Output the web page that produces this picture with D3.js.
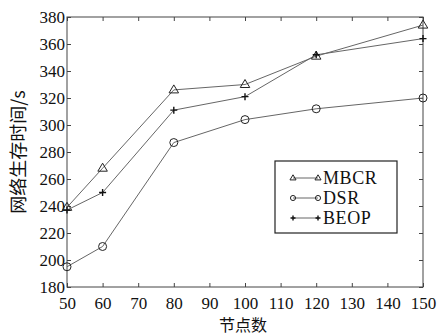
<!DOCTYPE html>
<html>
<head>
<meta charset="utf-8">
<script src="https://cdn.jsdelivr.net/npm/d3@7"></script>
<style>
  body { margin: 0; background: #fff; }
</style>
</head>
<body>
<div id="chart"></div>
<script>
// chart data
const nodes = [50, 60, 80, 100, 120, 150];
const mbcr = [239, 268, 326, 330, 351, 374];
const dsr = [195, 210, 287, 304, 312, 320];
const beop = [237, 250, 311, 321, 352, 364];
const xTicks = [50, 60, 70, 80, 90, 100, 110, 120, 130, 140, 150];
const yTicks = [180, 200, 220, 240, 260, 280, 300, 320, 340, 360, 380];

const width = 441, height = 336;
const mLeft = 67, mRight = 423, mTop = 17, mBottom = 287;
const serifFont = "Liberation Serif";
const cjkFont = "Noto Sans CJK SC";

const svg = d3.select("#chart").append("svg")
  .attr("width", width).attr("height", height);

const x = d3.scaleLinear().domain([50, 150]).range([mLeft, mRight]);
const y = d3.scaleLinear().domain([180, 380]).range([mBottom, mTop]);

const axisColor = "#444";

// axes with inward ticks on all four sides
const styleAxis = (g) => {
  g.attr("font-family", serifFont).attr("font-size", 17);
  g.select(".domain").remove();
  g.selectAll("line").attr("stroke", axisColor);
  g.selectAll("text").attr("fill", "#111");
};

svg.append("g")
  .attr("transform", `translate(0,${mBottom})`)
  .call(d3.axisBottom(x).tickValues(xTicks).tickSize(-4).tickPadding(10).tickFormat(d3.format("d")))
  .call(styleAxis);
svg.append("g")
  .attr("transform", `translate(0,${mTop})`)
  .call(d3.axisTop(x).tickValues(xTicks).tickSize(-4).tickFormat(""))
  .call(styleAxis);
svg.append("g")
  .attr("transform", `translate(${mLeft},0)`)
  .call(d3.axisLeft(y).tickValues(yTicks).tickSize(-4).tickPadding(2).tickFormat(d3.format("d")))
  .call(styleAxis);
svg.append("g")
  .attr("transform", `translate(${mRight},0)`)
  .call(d3.axisRight(y).tickValues(yTicks).tickSize(-4).tickFormat(""))
  .call(styleAxis);

// frame
svg.append("rect")
  .attr("x", mLeft).attr("y", mTop)
  .attr("width", mRight - mLeft).attr("height", mBottom - mTop)
  .attr("fill", "none").attr("stroke", axisColor).attr("stroke-width", 1);

const line = d3.line().x((d, i) => x(nodes[i])).y((d) => y(d));
const lineColor = "#666";

function marker(g, type, cx, cy, s) {
  if (type === "tri") {
    g.append("path")
      .attr("d", `M${cx},${cy - s}L${cx + s * 0.95},${cy + s * 0.6}L${cx - s * 0.95},${cy + s * 0.6}Z`)
      .attr("fill", "none").attr("stroke", "#222").attr("stroke-width", 1);
  } else if (type === "circ") {
    g.append("circle").attr("cx", cx).attr("cy", cy).attr("r", s * 0.8)
      .attr("fill", "none").attr("stroke", "#222").attr("stroke-width", 1);
  } else {
    g.append("path")
      .attr("d", `M${cx - s},${cy}L${cx + s},${cy}M${cx},${cy - s}L${cx},${cy + s}`)
      .attr("stroke", "#111").attr("stroke-width", 1.4);
  }
}

const series = [
  { name: "MBCR", values: mbcr, type: "tri" },
  { name: "DSR", values: dsr, type: "circ" },
  { name: "BEOP", values: beop, type: "plus" }
];

series.forEach((s) => {
  svg.append("path")
    .attr("d", line(s.values))
    .attr("fill", "none")
    .attr("stroke", lineColor)
    .attr("stroke-width", 1);
  const g = svg.append("g");
  s.values.forEach((v, i) => marker(g, s.type, x(nodes[i]), y(v), s.type === "plus" ? 3.5 : 5));
});

// legend
const legend = svg.append("g").attr("transform", "translate(275,161)");
legend.append("rect")
  .attr("width", 122).attr("height", 72)
  .attr("fill", "#fff").attr("stroke", "#222").attr("stroke-width", 1.2);
series.forEach((s, i) => {
  const ly = 17 + i * 20;
  legend.append("line")
    .attr("x1", 18).attr("x2", 43).attr("y1", ly).attr("y2", ly)
    .attr("stroke", lineColor).attr("stroke-width", 1);
  const g = legend.append("g");
  const ms = s.type === "plus" ? 2.5 : 3.2;
  marker(g, s.type, 18, ly, ms);
  marker(g, s.type, 43, ly, ms);
  legend.append("text")
    .attr("x", 48).attr("y", ly + 6)
    .attr("font-family", serifFont)
    .attr("font-size", 18)
    .attr("letter-spacing", 0.6)
    .attr("fill", "#111")
    .text(s.name);
});

// axis titles
svg.append("text")
  .attr("x", mLeft + (mRight - mLeft) / 2 - 2).attr("y", 331)
  .attr("text-anchor", "middle")
  .attr("font-family", cjkFont)
  .attr("font-size", 16)
  .attr("fill", "#111")
  .text("节点数");

svg.append("text")
  .attr("transform", `translate(25,152) rotate(-90)`)
  .attr("text-anchor", "middle")
  .attr("font-family", cjkFont)
  .attr("font-size", 18)
  .attr("fill", "#111")
  .text("网络生存时间/s");
</script>
</body>
</html>
